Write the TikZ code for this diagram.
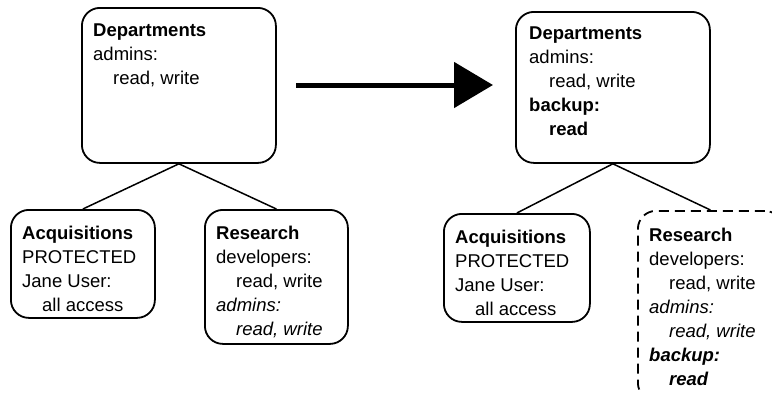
\documentclass[tikz,border=0pt]{standalone}
\usepackage{fontspec}
\setmainfont{Liberation Sans}
\usetikzlibrary{arrows.meta}
\newcommand\indnt{\hspace*{20pt}}
\begin{document}
\begin{tikzpicture}
      [x=1pt, y=-1pt,
       box/.style={draw, line width=1.8pt, rounded corners=18pt, anchor=north west, inner sep=0pt},
       txt/.style={anchor=north west, align=left, inner sep=0pt, font=\fontsize{18.5}{24}\selectfont},
       link/.style={line width=1.5pt}]
      \clip (0,0) rectangle (772,392);

      % before
      \node[box, minimum width=194pt, minimum height=155pt] (ldep) at (81,7) {};
      \node[box, minimum width=144pt, minimum height=108pt] (lacq) at (10,209) {};
      \node[box, minimum width=143pt, minimum height=134pt] (lres) at (204,209) {};

      \node[txt] (ldeptxt) at ([xshift=12pt, yshift=-17pt]ldep.north west)
        {\textbf{Departments}\\admins:\\\indnt read, write};
      \node[txt] (lacqtxt) at ([xshift=12pt, yshift=-17pt]lacq.north west)
        {\textbf{Acquisitions}\\PROTECTED\\Jane User:\\\indnt all access};
      \node[txt] (lrestxt) at ([xshift=12pt, yshift=-17pt]lres.north west)
        {\textbf{Research}\\developers:\\\indnt read, write\\\textit{admins:}\\\indnt\textit{read, write}};

      \draw[link] (ldep.south) -- (lacq.north);
      \draw[link] (ldep.south) -- (lres.north);

      % arrow
      \coordinate (astart) at (296,85);
      \coordinate (aend) at (493,85);
      \draw[line width=5pt, -{Triangle[length=39pt, width=45pt]}] (astart) -- (aend);

      % after
      \node[box, minimum width=194pt, minimum height=151pt] (rdep) at (515,11) {};
      \node[box, minimum width=146pt, minimum height=108pt] (racq) at (443,213) {};
      \node[box, dash pattern=on 10pt off 6pt, minimum width=145pt, minimum height=190pt] (rres) at (637,210) {};

      \node[txt] (rdeptxt) at ([xshift=14pt, yshift=-16pt]rdep.north west)
        {\textbf{Departments}\\admins:\\\indnt read, write\\\textbf{backup:}\\\indnt\textbf{read}};
      \node[txt] (racqtxt) at ([xshift=12pt, yshift=-17pt]racq.north west)
        {\textbf{Acquisitions}\\PROTECTED\\Jane User:\\\indnt all access};
      \node[txt] (rrestxt) at ([xshift=12pt, yshift=-18pt]rres.north west)
        {\textbf{Research}\\developers:\\\indnt read, write\\\textit{admins:}\\\indnt\textit{read, write}\\
         \textbf{\textit{backup:}}\\\indnt\textbf{\textit{read}}};

      \draw[link] (rdep.south) -- (racq.north);
      \draw[link] (rdep.south) -- (rres.north);
\end{tikzpicture}
\end{document}
